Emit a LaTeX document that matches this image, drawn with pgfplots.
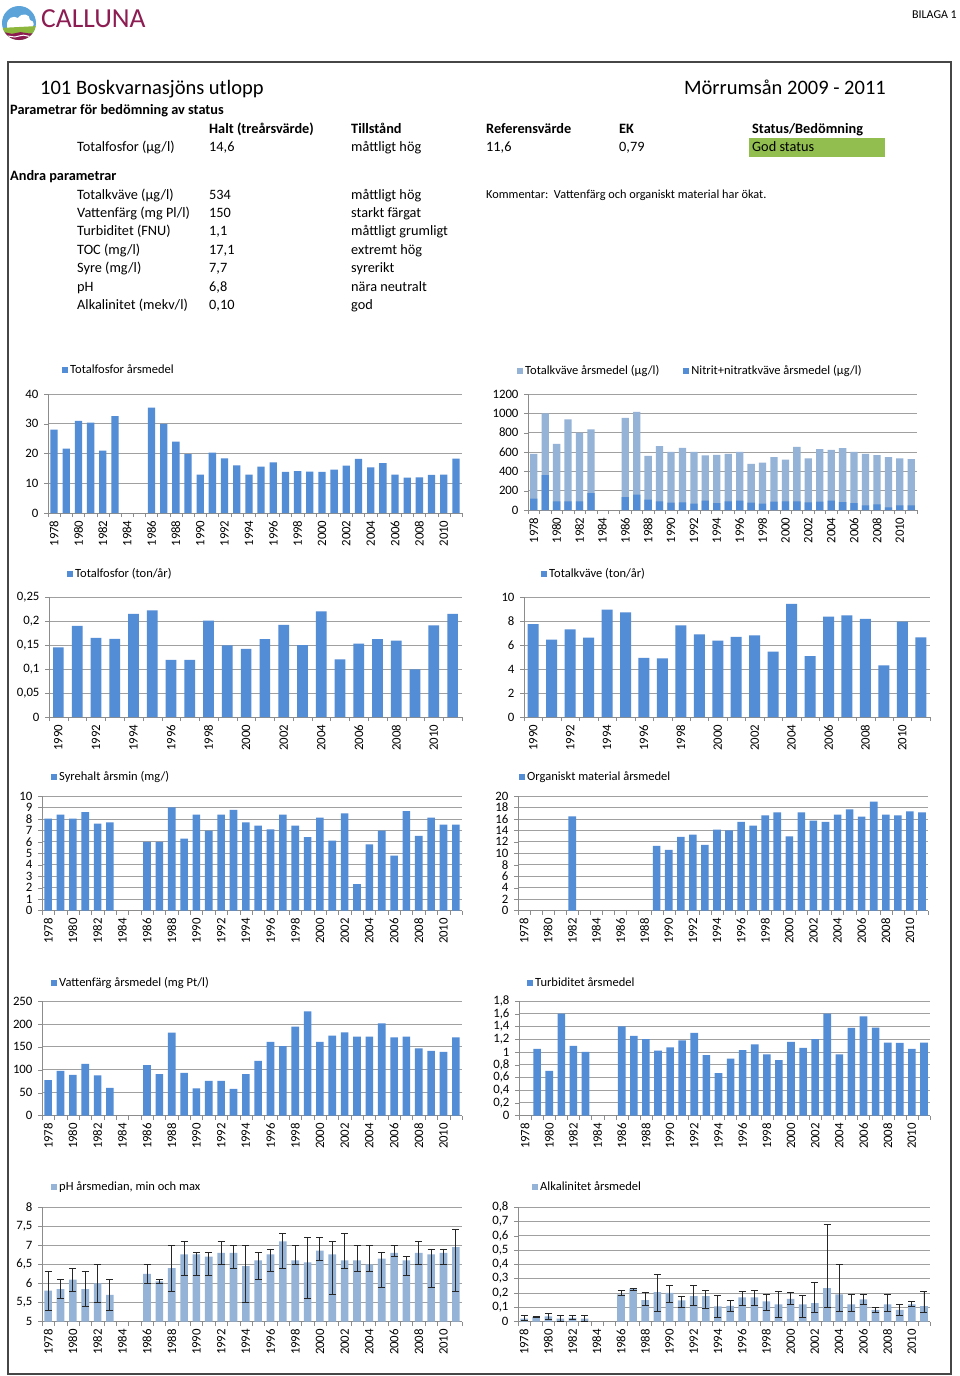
\documentclass[border=0pt]{standalone}
\usepackage{fontspec}
\setmainfont{Carlito}
\usepackage{pgfplots}
\pgfplotsset{compat=1.18}
\usepackage{pgfplotstable}

\definecolor{barblue}{RGB}{83,141,213}
\definecolor{lightblue}{RGB}{149,179,215}
\definecolor{gridgray}{RGB}{160,160,160}
\definecolor{axgray}{RGB}{140,140,140}
\definecolor{godgreen}{RGB}{146,190,80}
\definecolor{logopurple}{RGB}{140,28,82}
\definecolor{logoblue}{RGB}{91,163,217}
\definecolor{logogreen}{RGB}{140,182,60}
\definecolor{framegray}{RGB}{70,70,70}

\newcommand\tickfont{\fontsize{12.8}{13}\selectfont}
\newcommand\legfont{\fontsize{12.5}{13}\selectfont}
\newcommand\tabfont{\fontsize{14.3}{16}\selectfont}

\pgfplotsset{
  excel/.style={
    scale only axis, anchor=north west,
    axis x line*=bottom, axis y line*=left,
    axis line style={axgray,-},
    ymajorgrids, grid style={gridgray, line width=0.7pt},
    ybar,
    tick align=outside, major tick length=4pt, minor tick length=4pt,
    major x tick style={draw=none},
    minor x tick style={draw=axgray},
    ytick style={draw=axgray},
    scaled ticks=false,
    x tick label style={rotate=90, anchor=east, font=\tickfont},
    y tick label style={font=\tickfont, xshift=-2pt},
    /pgf/number format/.cd, fixed, precision=2, use comma, 1000 sep={}, assume math mode=true, /pgfplots/.cd,
    legend style={at={(axis description cs:0,1)}, anchor=west, draw=none, fill=none,
      inner sep=0pt, font=\legfont, legend cell align=left},
    legend image code/.code={\fill[#1,draw=none] (0pt,-3pt) rectangle (6pt,3pt);},
  },
  yrs78/.style={xmin=1977.5, xmax=2011.5, xtick={1978,1980,...,2010},
    minor xtick={1977.5,1978.5,...,2011.5}},
  yrs90/.style={xmin=1989.5, xmax=2011.5, xtick={1990,1992,...,2010},
    minor xtick={1989.5,1990.5,...,2011.5}},
}

\pgfplotstableread{
year val
1978 28.0
1979 21.6
1980 31.0
1981 30.4
1982 21.0
1983 32.6
1986 35.4
1987 30.0
1988 24.0
1989 19.8
1990 12.9
1991 20.3
1992 18.4
1993 16.0
1994 12.9
1995 15.6
1996 17.0
1997 13.8
1998 14.1
1999 13.9
2000 13.8
2001 14.6
2002 15.9
2003 18.2
2004 15.3
2005 16.8
2006 12.9
2007 11.9
2008 12.0
2009 12.8
2010 12.9
2011 18.3
}\tpdata

\pgfplotstableread{
year tot nit
1978 581 117
1979 1000 361
1980 684 89
1981 938 89
1982 801 89
1983 835 175
1986 952 134
1987 1014 158
1988 560 107
1989 660 89
1990 601 76
1991 643 79
1992 601 65
1993 564 96
1994 570 72
1995 581 89
1996 601 96
1997 478 76
1998 491 65
1999 546 86
2000 522 89
2001 653 89
2002 533 79
2003 629 86
2004 622 96
2005 639 82
2006 601 72
2007 581 48
2008 567 58
2009 546 27
2010 533 48
2011 526 48
}\tndata

\pgfplotstableread{
year val
1990 0.145
1991 0.190
1992 0.165
1993 0.163
1994 0.215
1995 0.222
1996 0.119
1997 0.119
1998 0.201
1999 0.149
2000 0.142
2001 0.162
2002 0.192
2003 0.150
2004 0.220
2005 0.120
2006 0.153
2007 0.162
2008 0.159
2009 0.099
2010 0.191
2011 0.215
}\tptondata

\pgfplotstableread{
year val
1990 7.75
1991 6.44
1992 7.31
1993 6.61
1994 8.94
1995 8.72
1996 4.92
1997 4.89
1998 7.64
1999 6.89
2000 6.36
2001 6.67
2002 6.81
2003 5.44
2004 9.42
2005 5.08
2006 8.36
2007 8.47
2008 8.17
2009 4.31
2010 7.94
2011 6.64
}\tntondata

\pgfplotstableread{
year val
1978 8.02
1979 8.37
1980 8.02
1981 8.6
1982 7.59
1983 7.7
1986 5.99
1987 5.99
1988 9.0
1989 6.28
1990 8.37
1991 6.98
1992 8.37
1993 8.78
1994 7.7
1995 7.41
1996 7.09
1997 8.37
1998 7.41
1999 6.4
2000 8.11
2001 6.1
2002 8.49
2003 2.3
2004 5.78
2005 6.98
2006 4.8
2007 8.69
2008 6.51
2009 8.11
2010 7.5
2011 7.5
}\syredata

\pgfplotstableread{
year val
1982 16.45
1989 11.28
1990 10.58
1991 12.85
1992 13.26
1993 11.45
1994 14.13
1995 14.01
1996 15.47
1997 14.83
1998 16.63
1999 17.15
2000 12.97
2001 17.15
2002 15.7
2003 15.47
2004 16.74
2005 17.67
2006 16.4
2007 19.0
2008 16.74
2009 16.63
2010 17.33
2011 17.15
}\orgdata

\pgfplotstableread{
year val
1978 77.3
1979 97.7
1980 88.9
1981 113
1982 87.5
1983 60.5
1986 110
1987 90.4
1988 180.8
1989 93.3
1990 59
1991 75.8
1992 75.8
1993 58.3
1994 90.4
1995 119.5
1996 161
1997 151.6
1998 193.9
1999 227.4
2000 161
2001 174.2
2002 181.5
2003 172
2004 172
2005 201.2
2006 170.6
2007 172
2008 146.5
2009 141.4
2010 139.2
2011 170.6
}\farg

\pgfplotstableread{
year val
1979 1.047
1980 0.70
1981 1.60
1982 1.094
1983 1.0
1986 1.40
1987 1.25
1988 1.20
1989 1.02
1990 1.07
1991 1.18
1992 1.30
1993 0.95
1994 0.665
1995 0.895
1996 1.026
1997 1.12
1998 0.96
1999 0.87
2000 1.157
2001 1.063
2002 1.20
2003 1.60
2004 0.963
2005 1.377
2006 1.56
2007 1.382
2008 1.147
2009 1.141
2010 1.047
2011 1.147
}\turb

\pgfplotstableread{
year med lo hi
1978 5.81 5.3 6.3
1979 5.85 5.6 6.1
1980 6.1 5.8 6.4
1981 5.85 5.4 6.3
1982 6.0 5.5 6.5
1983 5.7 5.3 6.1
1986 6.25 6.0 6.5
1987 6.05 6.0 6.1
1988 6.4 5.8 7.0
1989 6.76 6.2 7.1
1990 6.76 6.2 6.8
1991 6.7 6.2 6.8
1992 6.8 6.5 7.1
1993 6.8 6.4 7.0
1994 6.45 5.5 7.0
1995 6.6 6.1 6.8
1996 6.76 6.3 6.9
1997 7.1 6.4 7.3
1998 6.6 6.5 7.0
1999 6.55 5.6 7.2
2000 6.86 6.6 7.2
2001 6.76 5.7 7.1
2002 6.6 6.4 7.3
2003 6.6 6.3 7.0
2004 6.5 6.3 7.0
2005 6.65 5.9 6.8
2006 6.8 6.7 7.0
2007 6.6 6.2 6.7
2008 6.8 6.5 7.1
2009 6.76 5.9 6.9
2010 6.8 6.5 6.9
2011 6.95 5.8 7.4
}\phdata

\pgfplotstableread{
year med lo hi
1978 0.02 0.005 0.045
1979 0.03 0.025 0.035
1980 0.035 0.015 0.058
1981 0.02 0.001 0.045
1982 0.025 0.012 0.045
1983 0.02 0.001 0.04
1986 0.19 0.18 0.22
1987 0.228 0.22 0.23
1988 0.15 0.11 0.2
1989 0.205 0.07 0.33
1990 0.2 0.13 0.25
1991 0.147 0.1 0.175
1992 0.177 0.11 0.255
1993 0.177 0.09 0.22
1994 0.105 0.025 0.18
1995 0.11 0.07 0.15
1996 0.168 0.11 0.21
1997 0.168 0.11 0.22
1998 0.14 0.08 0.19
1999 0.12 0.03 0.21
2000 0.158 0.12 0.2
2001 0.12 0.03 0.18
2002 0.128 0.06 0.27
2003 0.233 0.1 0.68
2004 0.19 0.07 0.4
2005 0.12 0.07 0.19
2006 0.154 0.12 0.19
2007 0.082 0.065 0.095
2008 0.12 0.07 0.19
2009 0.082 0.04 0.12
2010 0.12 0.105 0.14
2011 0.107 0.06 0.21
}\alkdata

\begin{document}
\begin{tikzpicture}
\useasboundingbox (0pt,0pt) rectangle (960pt,-1376pt);
\fill[white] (0pt,0pt) rectangle (960pt,-1376pt);

% ---- logo ----
\begin{scope}
\clip (19pt,-23pt) circle (17pt);
\fill[logoblue] (0pt,-4pt) rectangle (38pt,-42pt);
\fill[white] (7pt,-25pt) .. controls (7pt,-18pt) and (13pt,-15pt) .. (18pt,-18pt)
  .. controls (22pt,-12pt) and (30pt,-14pt) .. (30pt,-20pt)
  .. controls (35pt,-21pt) and (35pt,-27pt) .. (30pt,-28pt) -- (7pt,-28pt) -- cycle;
\fill[logogreen] (0pt,-28pt) -- (38pt,-26pt) -- (38pt,-42pt) -- (0pt,-42pt) -- cycle;
\fill[logopurple] (0pt,-33pt) .. controls (6pt,-30pt) and (10pt,-36pt) .. (16pt,-33pt)
  .. controls (22pt,-30pt) and (28pt,-36pt) .. (38pt,-32pt) -- (38pt,-42pt) -- (0pt,-42pt) -- cycle;
\draw[white, line width=1pt] (4pt,-37pt) .. controls (9pt,-34pt) and (13pt,-39pt) .. (19pt,-36pt)
  .. controls (25pt,-33pt) and (30pt,-39pt) .. (36pt,-36pt);
\end{scope}
\node[anchor=mid west, inner sep=0pt, text=logopurple, font=\fontsize{27.5}{29}\selectfont] at (41pt,-25pt) {CALLUNA};
\node[anchor=mid east, inner sep=0pt, font=\fontsize{12}{13}\selectfont] at (957pt,-16pt) {BILAGA 1};

% ---- frame ----
\draw[framegray, line width=1.3pt] (8pt,-1374pt) -- (8pt,-62pt) -- (951pt,-62pt) -- (951pt,-1374pt) -- cycle;

% ---- header texts ----
\node[anchor=mid west, inner sep=0pt, font=\fontsize{20.5}{23}\selectfont] at (40pt,-92pt) {101 Boskvarnasjöns utlopp};
\node[anchor=mid east, inner sep=0pt, font=\fontsize{20.5}{23}\selectfont] at (886pt,-92pt) {Mörrumsån 2009 - 2011};
\node[anchor=mid west, inner sep=0pt, font=\tabfont\bfseries] at (10pt,-112pt) {Parametrar för bedömning av status};
\begin{scope}[every node/.style={anchor=mid west, inner sep=0pt, font=\tabfont\bfseries}]
\node at (209pt,-131pt) {Halt (treårsvärde)};
\node at (351pt,-131pt) {Tillstånd};
\node at (486pt,-131pt) {Referensvärde};
\node at (619pt,-131pt) {EK};
\node at (752pt,-131pt) {Status/Bedömning};
\end{scope}
\fill[godgreen] (749pt,-138pt) rectangle (885pt,-157pt);
\begin{scope}[every node/.style={anchor=mid west, inner sep=0pt, font=\tabfont}]
\node at (77pt,-149pt) {Totalfosfor (µg/l)};
\node at (209pt,-149pt) {14,6};
\node at (351pt,-149pt) {måttligt hög};
\node at (486pt,-149pt) {11,6};
\node at (619pt,-149pt) {0,79};
\node at (752pt,-149pt) {God status};
\node[font=\tabfont\bfseries] at (10pt,-178pt) {Andra parametrar};
\node at (77pt,-197pt) {Totalkväve (µg/l)};
\node at (209pt,-197pt) {534};
\node at (351pt,-197pt) {måttligt hög};
\node at (77pt,-215pt) {Vattenfärg (mg Pl/l)};
\node at (209pt,-215pt) {150};
\node at (351pt,-215pt) {starkt färgat};
\node at (77pt,-233pt) {Turbiditet (FNU)};
\node at (209pt,-233pt) {1,1};
\node at (351pt,-233pt) {måttligt grumligt};
\node at (77pt,-252pt) {TOC (mg/l)};
\node at (209pt,-252pt) {17,1};
\node at (351pt,-252pt) {extremt hög};
\node at (77pt,-270pt) {Syre (mg/l)};
\node at (209pt,-270pt) {7,7};
\node at (351pt,-270pt) {syrerikt};
\node at (77pt,-289pt) {pH};
\node at (209pt,-289pt) {6,8};
\node at (351pt,-289pt) {nära neutralt};
\node at (77pt,-307pt) {Alkalinitet (mekv/l)};
\node at (209pt,-307pt) {0,10};
\node at (351pt,-307pt) {god};
\node[font=\fontsize{12.3}{14}\selectfont] at (486pt,-196pt) {Kommentar:\ \ Vattenfärg och organiskt material har ökat.};
\end{scope}

% ---- Chart 1 ----
\begin{axis}[excel, yrs78, at={(48pt,-394pt)}, width=414pt, height=119pt,
  ymin=0, ymax=40, ytick={0,10,20,30,40}, bar width=7.3pt,
  legend style={xshift=14pt, yshift=24pt}]
\addplot[fill=barblue, draw=none] table[x=year, y=val] {\tpdata};
\addlegendentry{Totalfosfor årsmedel}
\end{axis}

% ---- Chart 2 ----
\begin{axis}[excel, yrs78, at={(528pt,-394pt)}, width=389pt, height=116pt,
  ymin=0, ymax=1200, ytick={0,200,400,600,800,1000,1200}, bar width=7.3pt,
  legend columns=2,
  legend style={xshift=-11pt, yshift=23pt, /tikz/every even column/.append style={column sep=22pt}}]
\addplot[fill=lightblue, draw=none, bar shift=0pt] table[x=year, y=tot] {\tndata};
\addlegendentry{Totalkväve årsmedel (µg/l)}
\addplot[fill=barblue, draw=none, bar shift=0pt] table[x=year, y=nit] {\tndata};
\addlegendentry{Nitrit+nitratkväve årsmedel (µg/l)}
\end{axis}

% ---- Chart 3 ----
\begin{axis}[excel, yrs90, at={(49pt,-597pt)}, width=413pt, height=120pt,
  ymin=0, ymax=0.25, ytick={0,0.05,0.1,0.15,0.2,0.25}, bar width=10.7pt,
  legend style={xshift=18pt, yshift=23pt}]
\addplot[fill=barblue, draw=none] table[x=year, y=val] {\tptondata};
\addlegendentry{Totalfosfor (ton/år)}
\end{axis}

% ---- Chart 4 ----
\begin{axis}[excel, yrs90, at={(524pt,-597pt)}, width=406pt, height=120pt,
  ymin=0, ymax=10, ytick={0,2,4,6,8,10}, bar width=11pt,
  legend style={xshift=17pt, yshift=23pt}]
\addplot[fill=barblue, draw=none] table[x=year, y=val] {\tntondata};
\addlegendentry{Totalkväve (ton/år)}
\end{axis}

% ---- Chart 5 ----
\begin{axis}[excel, yrs78, at={(42pt,-796pt)}, width=420pt, height=114.5pt,
  ymin=0, ymax=10, ytick={0,1,2,3,4,5,6,7,8,9,10}, bar width=7.6pt,
  legend style={xshift=9pt, yshift=19pt}]
\addplot[fill=barblue, draw=none] table[x=year, y=val] {\syredata};
\addlegendentry{Syrehalt årsmin (mg/)}
\end{axis}

% ---- Chart 6 ----
\begin{axis}[excel, yrs78, at={(518pt,-796pt)}, width=410pt, height=114.5pt,
  ymin=0, ymax=20, ytick={0,2,4,6,8,10,12,14,16,18,20}, bar width=7.6pt,
  legend style={xshift=1pt, yshift=19pt}]
\addplot[fill=barblue, draw=none] table[x=year, y=val] {\orgdata};
\addlegendentry{Organiskt material årsmedel}
\end{axis}

% ---- Chart 7 ----
\begin{axis}[excel, yrs78, at={(42pt,-1001pt)}, width=420pt, height=114.5pt,
  ymin=0, ymax=250, ytick={0,50,100,150,200,250}, bar width=7.6pt,
  legend style={xshift=9pt, yshift=18pt}]
\addplot[fill=barblue, draw=none] table[x=year, y=val] {\farg};
\addlegendentry{Vattenfärg årsmedel (mg Pt/l)}
\end{axis}

% ---- Chart 8 ----
\begin{axis}[excel, yrs78, at={(519pt,-1001pt)}, width=411pt, height=114.5pt,
  ymin=0, ymax=1.8, ytick={0,0.2,0.4,0.6,0.8,1,1.2,1.4,1.6,1.8}, bar width=7.6pt,
  legend style={xshift=8pt, yshift=18pt}]
\addplot[fill=barblue, draw=none] table[x=year, y=val] {\turb};
\addlegendentry{Turbiditet årsmedel}
\end{axis}

% ---- Chart 9 ----
\begin{axis}[excel, yrs78, at={(42pt,-1207pt)}, width=420pt, height=114.5pt,
  ymin=5, ymax=8, ytick={5,5.5,6,6.5,7,7.5,8}, bar width=7.6pt,
  legend style={xshift=9pt, yshift=20pt}]
\addplot[fill=lightblue, draw=none,
  error bars/.cd, y dir=both, y explicit,
  error bar style={black!85, line width=0.9pt},
  error mark options={black!85, line width=0.9pt, mark size=3.5pt, rotate=90}]
  table[x=year, y=med, y error plus expr=\thisrow{hi}-\thisrow{med},
        y error minus expr=\thisrow{med}-\thisrow{lo}] {\phdata};
\addlegendentry{pH årsmedian, min och max}
\end{axis}

% ---- Chart 10 ----
\begin{axis}[excel, yrs78, at={(518pt,-1207pt)}, width=412pt, height=114.5pt,
  ymin=0, ymax=0.8, ytick={0,0.1,0.2,0.3,0.4,0.5,0.6,0.7,0.8}, bar width=7.6pt,
  legend style={xshift=14pt, yshift=20pt}]
\addplot[fill=lightblue, draw=none,
  error bars/.cd, y dir=both, y explicit,
  error bar style={black!85, line width=0.9pt},
  error mark options={black!85, line width=0.9pt, mark size=3.5pt, rotate=90}]
  table[x=year, y=med, y error plus expr=\thisrow{hi}-\thisrow{med},
        y error minus expr=\thisrow{med}-\thisrow{lo}] {\alkdata};
\addlegendentry{Alkalinitet årsmedel}
\end{axis}

\end{tikzpicture}
\end{document}
